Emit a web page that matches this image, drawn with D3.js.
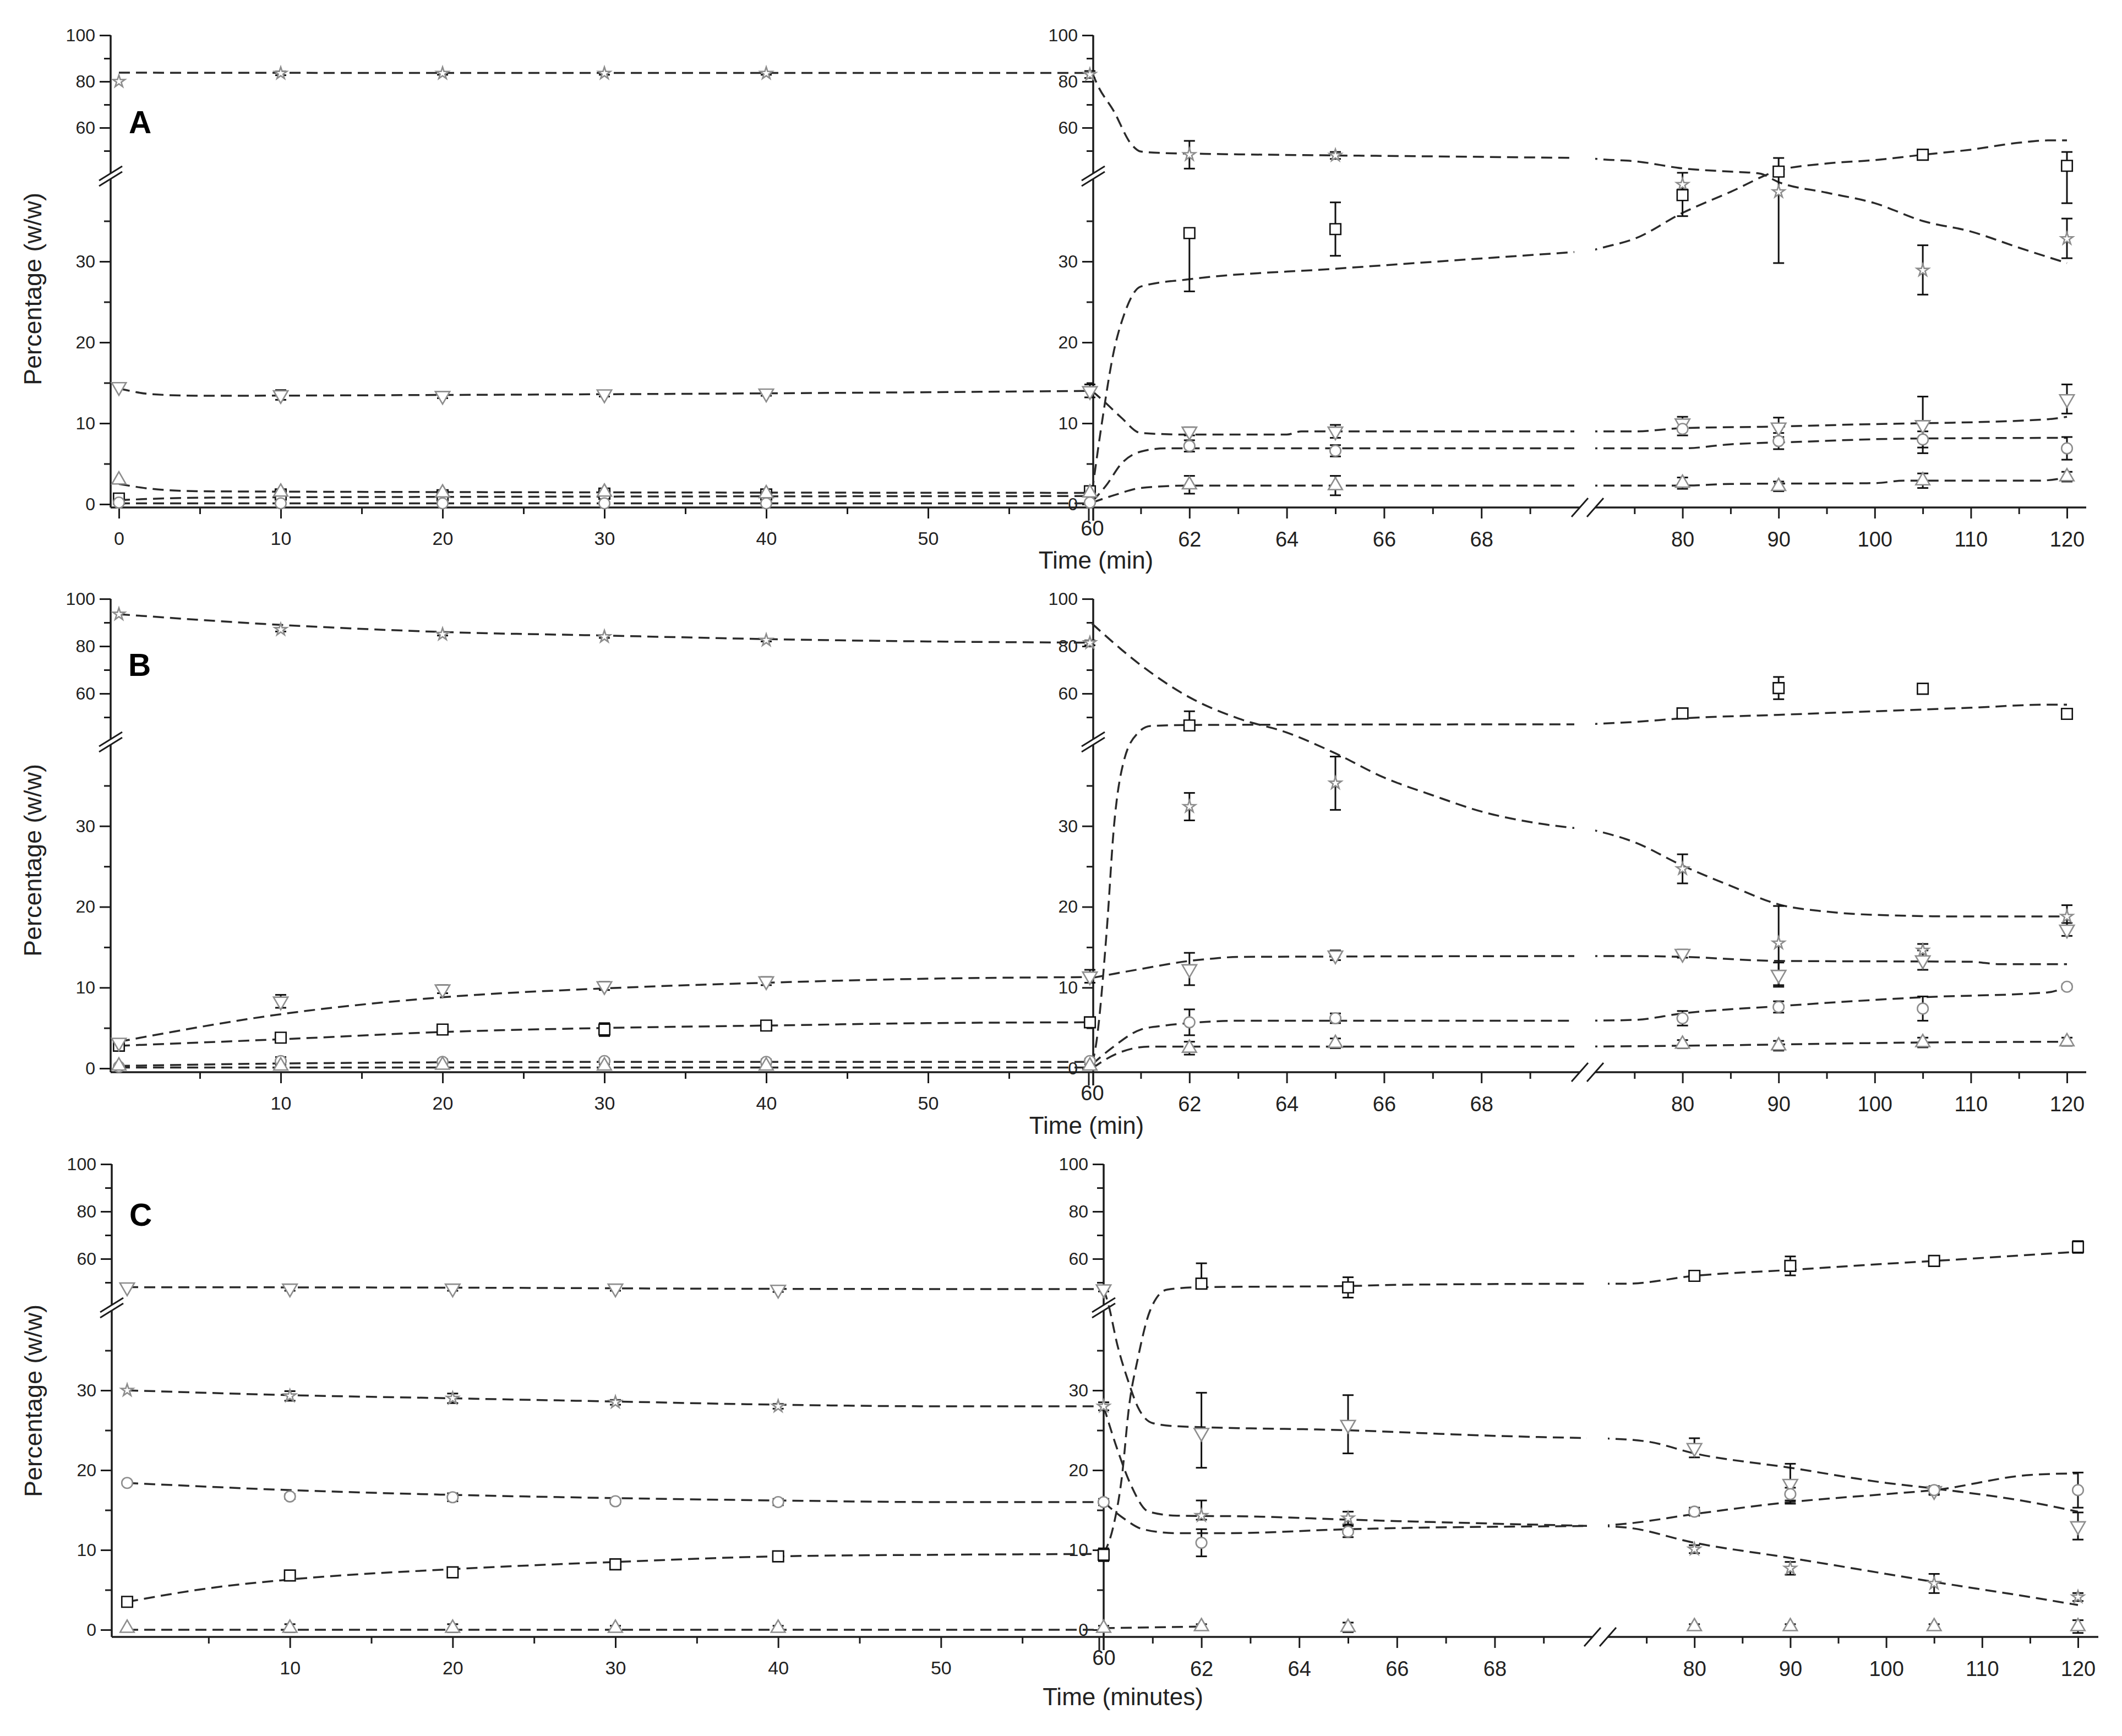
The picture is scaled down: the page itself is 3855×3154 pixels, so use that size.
<!DOCTYPE html>
<html><head><meta charset="utf-8">
<script src="https://cdn.jsdelivr.net/npm/d3@7"></script>
<style>html,body{margin:0;padding:0;background:#fff}svg{display:block}</style>
</head><body>
<script>
// ---------------- DATA ----------------
const sampleTimes = [0,10,20,30,40,60,62,65,80,90,105,120];
const panelLetters = ["A","B","C"];
const xTitles = ["Time (min)","Time (min)","Time (minutes)"];
const yTitle = "Percentage (w/w)";
const yMajorLow = [0,10,20,30], yMinorLow = [5,15,25,35];
const yMajorUp = [60,80,100], yMinorUp = [50,70,90];
const xMajor1 = [0,10,20,30,40,50], xMinor1 = [5,15,25,35,45,55];
const xMajor2 = [60,62,64,66,68], xMinor2 = [61,63,65,67,69];
const xMajor3 = [80,90,100,110,120], xMinor3 = [75,85,95,105,115];

// Panel A
const A_star = [80,83.5,83.5,83.5,83.5,83,48.3,48,39.5,38.6,28.9,32.8];
const A_star_err = [0,0.8,0.6,0.6,0.6,1.5,6,1.5,1,[8.8,8.3],[3,3.1],[2.4,2.5]];
const A_star_fitL = [[0,83.8],[20,83.7],[40,83.7],[60,83.7]];
const A_star_fitR = [[60,84],[60.1,79],[60.45,67],[60.8,53],[61,49.7],[61.5,49],[62,48.8],[65,48],[67,47.6],[70,46.9],[72,46.2],[75,45.5],[80,42.4],[85,41],[88,40.2],[90,39.8],[95,38.5],[100,37.2],[105,35],[110,33.7],[115,31.7],[120,29.8]];
const A_square = [0.7,1.2,1.1,1.3,1.2,1.6,33.5,34,38.2,41,48.3,43.5];
const A_square_err = [0,0.3,0.3,0.3,0.3,0.5,[7.2,0],3.3,[2.6,0.7],0.5,0.5,[6.3,6]];
const A_square_fitL = [[0,0.5],[5,0.8],[20,0.9],[60,1.0]];
const A_square_fitR = [[60,1.5],[60.2,10],[60.45,19],[60.65,23.3],[61,26.9],[62,27.8],[65,29.1],[70,31.2],[72,31.8],[75,32.8],[80,36],[85,38.6],[90,41.5],[95,44.5],[100,46],[105,48.3],[110,50.5],[115,53.5],[118,54.5],[120,54.5]];
const A_tdown = [14.5,13.5,13.4,13.6,13.7,14,9.0,9.0,10,9.5,9.8,13];
const A_tdown_err = [0,0.6,0.3,0.3,0.3,0.8,0.5,0.8,0.8,1.2,3.5,1.8];
const A_tdown_fitL = [[0,14.3],[2,13.6],[5,13.4],[20,13.5],[40,13.7],[60,14]];
const A_tdown_fitR = [[60,14],[60.3,12.4],[60.6,10.7],[61,8.8],[62,8.6],[64,8.6],[64.3,9.0],[70,9.0],[75,9.0],[80,9.4],[90,9.6],[100,9.9],[105,10],[118,10.5],[120,10.8]];
const A_circle = [0.2,0.1,0.1,0.1,0.1,0.2,7.2,6.6,9.3,7.8,8,6.9];
const A_circle_err = [0,0,0,0,0,0,0.7,0.7,0.8,1,1,1.4];
const A_circle_fitL = [[0,0.1],[60,0.1]];
const A_circle_fitR = [[60,0.3],[60.3,2.4],[60.6,5],[61,6.5],[61.5,6.9],[70,6.9],[80,6.9],[85,7.4],[92,7.7],[103,8.1],[120,8.2]];
const A_tup = [3.0,1.5,1.4,1.5,1.3,1.4,2.4,2.3,2.6,2.2,2.9,3.4];
const A_tup_err = [0,0.3,0.3,0.3,0.3,0.3,1.1,1.2,0.7,0.6,0.9,0.6];
const A_tup_fitL = [[0,2.5],[2,1.9],[5,1.6],[20,1.5],[60,1.4]];
const A_tup_fitR = [[60,0.2],[60.5,1.2],[61,2.0],[62,2.3],[70,2.3],[80,2.3],[85,2.5],[100,2.6],[103,2.9],[117,2.9],[120,3.3]];

// Panel B
const B_star = [93.5,87,85,84,82.5,81.4,32.4,35.3,24.7,15.5,14.6,18.8];
const B_star_err = [0,0.8,0.5,0.5,0.5,1,1.7,3.3,1.8,[5.2,4.6],0.8,1.4];
const B_star_fitL = [[0,93.5],[10,89],[20,86],[30,84.5],[40,83],[50,82],[60,81.5]];
const B_star_fitR = [[60,89.5],[61,72],[62,58.4],[63,49.5],[64,43.5],[65,39],[66,36],[67,33.8],[68,31.8],[69.2,30.3],[70,29.7],[75,28],[80,25.1],[85,22.6],[90,20.3],[95,19.4],[100,19],[110,18.8],[120,18.8]];
const B_square = [2.8,3.8,4.8,4.8,5.3,5.7,46.5,null,51.6,62.3,62,51.4];
const B_square_err = [0,0.3,0.3,0.8,0.3,0.5,[0,6],0,1,4.7,1,0.5];
const B_square_fitL = [[0,2.8],[10,3.6],[20,4.5],[30,5],[40,5.3],[50,5.6],[60,5.7]];
const B_square_fitR = [[60,0.5],[60.08,2.9],[60.3,17],[60.45,30],[60.65,38],[60.95,43.5],[61.2,46.3],[62,46.7],[70,47],[75,48],[80,49.5],[90,51],[100,52.5],[110,54],[118,55.3],[120,55.3]];
const B_tdown = [3.2,8.3,9.8,10.2,10.8,11.4,12.3,14,14.2,11.6,13.4,17.2];
const B_tdown_err = [0,0.8,0.5,0.5,0.5,0.8,2,0.6,0.5,1.5,1.2,0.8];
const B_tdown_fitL = [[0,3.3],[10,6.7],[20,8.8],[30,9.9],[40,10.6],[50,11.1],[60,11.3]];
const B_tdown_fitR = [[60,11.2],[61,12.3],[62,13.3],[62.5,13.6],[63,13.8],[70,13.9],[75,13.9],[80,13.8],[90,13.3],[110,13.2],[113,12.9],[120,12.9]];
const B_circle = [0.2,0.9,0.8,0.9,0.8,0.9,5.7,6.2,6.2,7.6,7.4,10.1];
const B_circle_err = [0,0.5,0.3,0.3,0.3,0.3,1.6,0.6,0.9,0.7,1.5,0.3];
const B_circle_fitL = [[0,0.3],[10,0.6],[30,0.8],[60,0.8]];
const B_circle_fitR = [[60,0.5],[60.4,2.5],[61,4.8],[61.5,5.3],[62,5.6],[63,5.9],[70,5.9],[75,6.0],[80,6.8],[90,7.7],[105,8.8],[118,9.4],[120,10.1]];
const B_tup = [0.3,0.3,0.4,0.3,0.3,0.3,2.5,3.1,3.0,2.8,3.2,3.3];
const B_tup_err = [0,0.2,0.2,0.2,0.2,0.2,0.8,0.6,0.5,0.6,0.6,0.5];
const B_tup_fitL = [[0,0.1],[60,0.1]];
const B_tup_fitR = [[60,0],[60.5,1.8],[61.2,2.7],[70,2.7],[80,2.8],[105,3.2],[120,3.3]];

// Panel C
const C_star = [30,29.3,29,28.5,28,28,14.3,14,10.1,7.7,5.8,4.1];
const C_star_err = [0,0.6,0.6,0.3,0.3,0.5,[0.5,1.9],0.8,0.5,0.8,1.2,0.5];
const C_star_fitL = [[0,30],[10,29.4],[20,29],[30,28.6],[40,28.2],[50,28],[60,28]];
const C_star_fitR = [[60,28],[60.28,22.6],[60.56,18.1],[60.92,14.8],[61.5,14.3],[63,14.2],[65,13.8],[70,13],[73,12.8],[80,10.9],[90,9.0],[100,7],[105,6],[115,4.1],[120,3.1]];
const C_square = [3.5,6.8,7.2,8.2,9.2,9.4,49.5,47.9,52.8,57,59.1,65];
const C_square_err = [0,0.3,0.5,0.3,0.3,0.8,[0,8.6],4.3,0.7,4,1,2.5];
const C_square_fitL = [[0,3.5],[5,5.2],[10,6.3],[20,7.6],[30,8.5],[40,9.2],[50,9.4],[60,9.5]];
const C_square_fitR = [[60,9.5],[60.2,13],[60.37,19],[60.52,28],[60.7,34],[60.95,40],[61.3,47],[62,48],[65,48.5],[66,49],[70,49.5],[73,49.5],[80,52.8],[90,55.3],[100,57.9],[105,59.1],[120,63]];
const C_tdown = [48,47.5,47.5,47.5,47,47.2,24.7,25.7,22.8,18.3,17.4,13.0];
const C_tdown_err = [0,1,1,1,1,1,[4.4,5],[3.6,3.7],1.2,2.5,0.5,1.7];
const C_tdown_fitL = [[0,48],[20,47.8],[40,47.3],[60,47.2]];
const C_tdown_fitR = [[60,47.2],[60.1,40.5],[60.28,35.7],[60.5,31.2],[60.7,27.9],[61,25.9],[61.5,25.5],[65,25],[68,24.3],[70,24],[75,23.6],[80,22.1],[90,20.3],[100,18.4],[105,17.7],[115,16],[120,14.8]];
const C_circle = [18.4,16.7,16.6,16.1,16,16,10.9,12.3,14.8,17,17.5,17.5];
const C_circle_err = [0,0.3,0.5,0.3,0.4,0.4,1.7,0.7,0.5,0.8,0.5,2.2];
const C_circle_fitL = [[0,18.4],[10,17.5],[20,16.9],[30,16.5],[40,16.2],[50,16],[60,16]];
const C_circle_fitR = [[60,16],[60.4,14],[60.8,12.6],[61.5,12.1],[62.5,12.1],[65,12.6],[70,13],[73,13.3],[80,14.5],[90,16],[100,17],[105,17.5],[115,19.4],[120,19.6]];
const C_tup = [0.2,0.2,0.2,0.2,0.2,0.2,0.4,0.3,0.4,0.4,0.4,0.4];
const C_tup_err = [0,0.5,0.5,0.3,0.3,0.3,0.3,0.6,0.3,0.3,0.3,0.8];
const C_tup_fitL = [[0,0],[60,0]];
const C_tup_fitR = [[60,0.2],[62,0.4],[120,0.4]];

// ---------------- LAYOUT / STYLE ----------------
const W = 3855, H = 3154;
const GRAY = "#8d8d8d", INK = "#1c1c1c";
const seriesKeys = ["star","square","tdown","circle","tup"];
const styles = {
  star:  {type:d3.symbolStar, size:150, color:GRAY, rot:0},
  square:{type:d3.symbolSquare, size:380, color:"#111", rot:0},
  tdown: {type:d3.symbolTriangle, size:300, color:GRAY, rot:180},
  circle:{type:d3.symbolCircle, size:300, color:GRAY, rot:0},
  tup:   {type:d3.symbolTriangle, size:280, color:GRAY, rot:0}
};
const layouts = [
  {x1:[216,1980], x2:[1984,2868], x3:[2882,3755], axisEnd:3790, brkX:2884,
   leftX:201, rightX:1986, yLow:[916,328], yUp:[316,64], axisY:922, brkY:320,
   letter:[234,242], yLab:[59,525], xLab:[1991,1033], showZero:true},
  {x1:[216,1980], x2:[1984,2868], x3:[2882,3755], axisEnd:3790, brkX:2884,
   leftX:201, rightX:1986, yLow:[1941,1354], yUp:[1346,1088], axisY:1948, brkY:1348,
   letter:[233,1228], yLab:[59,1563], xLab:[1974,2060], showZero:false},
  {x1:[231,2005], x2:[2005,2893], x3:[2904,3775], axisEnd:3812, brkX:2907,
   leftX:203, rightX:2005, yLow:[2961,2381], yUp:[2373,2115], axisY:2974, brkY:2376,
   letter:[235,2227], yLab:[60,2545], xLab:[2040,3098], showZero:false}
];
const panelSeries = [
  {star:[A_star,A_star_err,A_star_fitL,A_star_fitR], square:[A_square,A_square_err,A_square_fitL,A_square_fitR],
   tdown:[A_tdown,A_tdown_err,A_tdown_fitL,A_tdown_fitR], circle:[A_circle,A_circle_err,A_circle_fitL,A_circle_fitR],
   tup:[A_tup,A_tup_err,A_tup_fitL,A_tup_fitR]},
  {star:[B_star,B_star_err,B_star_fitL,B_star_fitR], square:[B_square,B_square_err,B_square_fitL,B_square_fitR],
   tdown:[B_tdown,B_tdown_err,B_tdown_fitL,B_tdown_fitR], circle:[B_circle,B_circle_err,B_circle_fitL,B_circle_fitR],
   tup:[B_tup,B_tup_err,B_tup_fitL,B_tup_fitR]},
  {star:[C_star,C_star_err,C_star_fitL,C_star_fitR], square:[C_square,C_square_err,C_square_fitL,C_square_fitR],
   tdown:[C_tdown,C_tdown_err,C_tdown_fitL,C_tdown_fitR], circle:[C_circle,C_circle_err,C_circle_fitL,C_circle_fitR],
   tup:[C_tup,C_tup_err,C_tup_fitL,C_tup_fitR]}
];

const svg = d3.select("body").append("svg").attr("width",W).attr("height",H)
  .style("font-family","'Liberation Sans', Arial, Helvetica, sans-serif");
svg.append("rect").attr("width",W).attr("height",H).attr("fill","#fff");
const defs = svg.append("defs");

function styleAxis(g, fs){
  g.select(".domain").remove();
  g.selectAll(".tick line").attr("stroke",INK).attr("stroke-width",3);
  g.selectAll(".tick text").attr("fill","#222").style("font-size",fs+"px");
}

function drawPanel(pi){
  const L = layouts[pi], S = panelSeries[pi];
  const g = svg.append("g");
  const x1 = d3.scaleLinear().domain([0,60]).range(L.x1);
  const x2 = d3.scaleLinear().domain([60,70]).range(L.x2);
  const x3 = d3.scaleLinear().domain([70,120]).range(L.x3);
  const yLo = d3.scaleLinear().domain([0,40]).range(L.yLow);
  const yUp = d3.scaleLinear().domain([40,100]).range(L.yUp);
  const y = v => v <= 40 ? yLo(v) : yUp(v);
  const xAt = t => t <= 60 ? x1(t) : (t <= 70 ? x2(t) : x3(t));

  // clip regions so the fitted curves break at the x-axis break
  const bx = L.brkX;
  defs.append("clipPath").attr("id","clipA"+pi).append("rect")
    .attr("x",0).attr("y",0).attr("width",bx-24).attr("height",H);
  defs.append("clipPath").attr("id","clipB"+pi).append("rect")
    .attr("x",bx+14).attr("y",0).attr("width",W-bx-14).attr("height",H);

  // ---- y axes ----
  [L.leftX, L.rightX].forEach((ax, k) => {
    const top = yUp(100);
    const bottom = k === 1 ? L.axisY + 24 : L.axisY;
    g.append("line").attr("x1",ax).attr("x2",ax).attr("y1",top).attr("y2",bottom)
      .attr("stroke",INK).attr("stroke-width",3.5);
    const mk = (scale, vals, size, labels) => {
      const a = g.append("g").attr("transform",`translate(${ax},0)`)
        .call(d3.axisLeft(scale).tickValues(vals).tickSize(size).tickPadding(8)
          .tickFormat(labels ? d3.format("d") : () => ""));
      styleAxis(a, 32);
    };
    mk(yLo, yMajorLow, 20, true); mk(yLo, yMinorLow, 12, false);
    mk(yUp, yMajorUp, 20, true);  mk(yUp, yMinorUp, 12, false);
    const by = L.brkY;
    g.append("polygon")
      .attr("points",`${ax-20},${by+8} ${ax+20},${by-18} ${ax+20},${by-8} ${ax-20},${by+18}`)
      .attr("fill","#fff");
    [-5,5].forEach(o => g.append("line")
      .attr("x1",ax-21).attr("y1",by+o+13).attr("x2",ax+21).attr("y2",by+o-13)
      .attr("stroke",INK).attr("stroke-width",3));
  });
  g.append("line").attr("x1",L.rightX-8).attr("x2",L.rightX-8).attr("y1",L.axisY).attr("y2",L.axisY+24)
    .attr("stroke",INK).attr("stroke-width",3);

  // ---- x axis ----
  g.append("line").attr("x1",L.leftX).attr("x2",bx-14).attr("y1",L.axisY).attr("y2",L.axisY)
    .attr("stroke",INK).attr("stroke-width",3.5);
  g.append("line").attr("x1",bx+14).attr("x2",L.axisEnd).attr("y1",L.axisY).attr("y2",L.axisY)
    .attr("stroke",INK).attr("stroke-width",3.5);
  [-14,14].forEach(o => g.append("line")
    .attr("x1",bx+o-15).attr("y1",L.axisY+17).attr("x2",bx+o+15).attr("y2",L.axisY-17)
    .attr("stroke",INK).attr("stroke-width",3));
  const mkx = (scale, vals, size, labels, fs) => {
    const a = g.append("g").attr("transform",`translate(0,${L.axisY})`)
      .call(d3.axisBottom(scale).tickValues(vals).tickSize(size).tickPadding(24)
        .tickFormat(labels ? d3.format("d") : () => ""));
    styleAxis(a, fs);
  };
  mkx(x1, L.showZero ? xMajor1 : xMajor1.filter(t => t > 0), 20, true, 34);
  mkx(x1, xMinor1, 12, false, 34);
  mkx(x2, xMajor2.filter(t => t > 60), 20, true, 38);
  mkx(x2, [60], 0, true, 38);
  mkx(x2, xMinor2, 12, false, 38);
  mkx(x3, xMajor3, 20, true, 38);
  mkx(x3, xMinor3, 12, false, 38);

  // ---- titles ----
  g.append("text").attr("transform",`translate(${L.yLab[0]},${L.yLab[1]}) rotate(-90)`)
    .attr("text-anchor","middle").attr("dominant-baseline","central")
    .style("font-size","45px").attr("fill","#222").text(yTitle);
  g.append("text").attr("x",L.xLab[0]).attr("y",L.xLab[1]).attr("text-anchor","middle")
    .style("font-size","44px").attr("fill","#222").text(xTitles[pi]);
  g.append("text").attr("x",L.letter[0]).attr("y",L.letter[1])
    .style("font-size","57px").style("font-weight","bold").attr("fill","#000").text(panelLetters[pi]);

  // ---- fitted curves ----
  const mkLine = xs => d3.line().x(d => xs(d[0])).y(d => y(d[1])).curve(d3.curveMonotoneX);
  const curveG = g.append("g").attr("fill","none").attr("stroke","#2a2a2a")
    .attr("stroke-width",3.5).attr("stroke-dasharray","20,11");
  seriesKeys.forEach(k => {
    const [, , fl, fr] = S[k];
    curveG.append("path").attr("d", mkLine(x1)(fl));
    curveG.append("path").attr("clip-path",`url(#clipA${pi})`)
      .attr("d", mkLine(x2)(fr.filter(d => d[0] <= 70)));
    curveG.append("path").attr("clip-path",`url(#clipB${pi})`)
      .attr("d", mkLine(x3)(fr.filter(d => d[0] >= 70)));
  });

  // ---- error bars ----
  const errG = g.append("g").attr("stroke","#111").attr("stroke-width",3);
  seriesKeys.forEach(k => {
    const [vals, errs] = S[k];
    vals.forEach((v, i) => {
      if (v == null) return;
      const e = errs[i];
      const [lo, hi] = Array.isArray(e) ? e : [e, e];
      if (lo + hi <= 0) return;
      const cx = xAt(sampleTimes[i]);
      const yt = y(v + hi), yb = y(v - lo);
      errG.append("line").attr("x1",cx).attr("x2",cx).attr("y1",yt).attr("y2",yb);
      if (hi > 0) errG.append("line").attr("x1",cx-10).attr("x2",cx+10).attr("y1",yt).attr("y2",yt);
      if (lo > 0) errG.append("line").attr("x1",cx-10).attr("x2",cx+10).attr("y1",yb).attr("y2",yb);
    });
  });

  // ---- markers ----
  seriesKeys.forEach(k => {
    const st = styles[k];
    const [vals] = S[k];
    const sym = d3.symbol().type(st.type).size(st.size);
    vals.forEach((v, i) => {
      if (v == null) return;
      g.append("path").attr("d", sym())
        .attr("transform",`translate(${xAt(sampleTimes[i])},${y(v)}) rotate(${st.rot})`)
        .attr("fill","#fff").attr("stroke",st.color).attr("stroke-width",2.6);
    });
  });
}

[0,1,2].forEach(drawPanel);
</script>
</body></html>
